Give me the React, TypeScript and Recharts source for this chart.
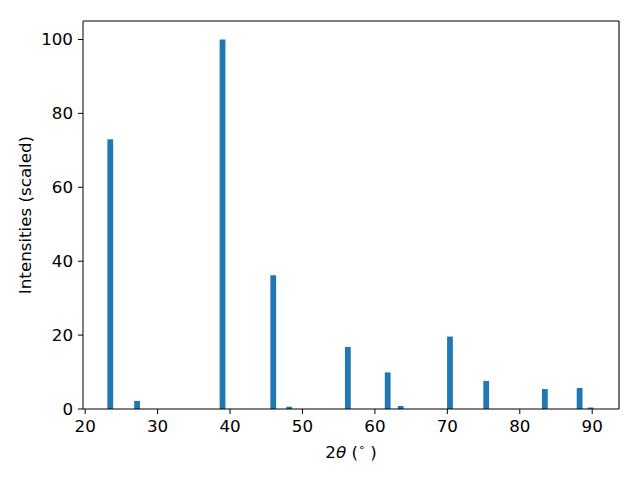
import { ComposedChart, Bar, XAxis, YAxis, ReferenceLine } from "recharts";

// peak positions (2θ, degrees) and scaled intensities
const twoTheta = [23.4, 27.1, 38.9, 45.9, 48.1, 56.2, 61.7, 63.5, 70.3, 75.3, 83.4, 88.2, 89.7];
const intensity = [73.0, 2.2, 100, 36.2, 0.6, 16.8, 9.9, 0.8, 19.6, 7.6, 5.4, 5.7, 0.4];

const xTicks = [20, 30, 40, 50, 60, 70, 80, 90];
const yTicks = [0, 20, 40, 60, 80, 100];
const xDomain = [19.7, 93.7];
const yDomain = [0, 105];

const data = twoTheta.map((t, i) => ({ t, v: intensity[i] }));

const font = "'DejaVu Sans', sans-serif";
const tickStyle = { fontSize: 16.7, fill: "#000", fontFamily: font };

export default function App() {
  return (
    <div style={{ position: "absolute", left: 0, top: 0, width: 640, height: 480, background: "#fff" }}>
      <ComposedChart
        width={640}
        height={480}
        data={data}
        margin={{ top: 21, right: 21, left: 0, bottom: 41 }}
      >
        <XAxis
          dataKey="t"
          type="number"
          domain={xDomain}
          allowDataOverflow
          ticks={xTicks}
          interval={0}
          height={30}
          tickSize={5}
          tickMargin={6}
          stroke="#000"
          tick={tickStyle}
        />
        <YAxis
          type="number"
          domain={yDomain}
          allowDataOverflow
          ticks={yTicks}
          interval={0}
          width={83}
          tickSize={5}
          tickMargin={5}
          stroke="#000"
          tick={tickStyle}
        />
        {/* top and right spines */}
        <ReferenceLine y={yDomain[1]} stroke="#000" strokeWidth={1.1} />
        <ReferenceLine x={xDomain[1]} stroke="#000" strokeWidth={1.1} />
        <Bar dataKey="v" fill="#1f77b4" barSize={5.8} isAnimationActive={false} />
      </ComposedChart>
      <svg
        width={640}
        height={480}
        style={{ position: "absolute", left: 0, top: 0, pointerEvents: "none" }}
      >
        <text x={351} y={458} textAnchor="middle" fontSize={16.7} fontFamily={font} fill="#000">
          2<tspan fontStyle="italic">θ</tspan> (
          <tspan fontSize={11} dy={-7}>∘</tspan>
          <tspan dy={7}> )</tspan>
        </text>
        <text
          x={0}
          y={0}
          transform="translate(31,215) rotate(-90)"
          textAnchor="middle"
          fontSize={16.7}
          fontFamily={font}
          fill="#000"
        >
          Intensities (scaled)
        </text>
      </svg>
    </div>
  );
}
